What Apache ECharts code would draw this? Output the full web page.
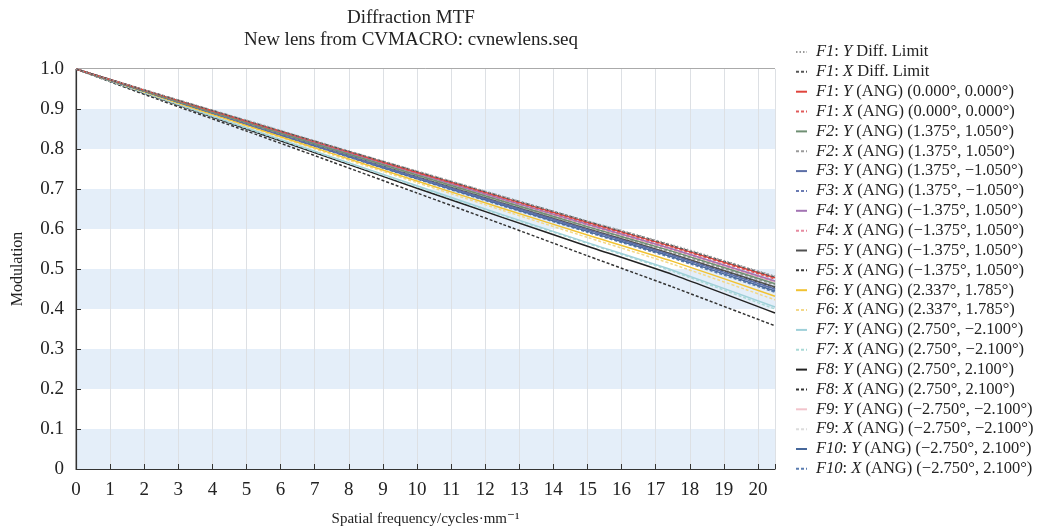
<!DOCTYPE html>
<html>
<head>
<meta charset="utf-8">
<script src="https://cdn.jsdelivr.net/npm/echarts@6/dist/echarts.min.js"></script>
<style>html,body{margin:0;padding:0;background:#fff}#c{width:1038px;height:529px}</style>
</head>
<body>
<div id="c"></div>
<script>
// Spatial frequency sample positions (cycles/mm)
var freqs = [0, 2.5, 5, 7.5, 10, 12.5, 15, 17.5, 20.5];
var xTicks = ['0','1','2','3','4','5','6','7','8','9','10','11','12','13','14','15','16','17','18','19','20'];
var yTicks = ['0','0.1','0.2','0.3','0.4','0.5','0.6','0.7','0.8','0.9','1.0'];

var seriesNames = [
  'F1: Y Diff. Limit',
  'F1: X Diff. Limit',
  'F1: Y (ANG) (0.000°, 0.000°)',
  'F1: X (ANG) (0.000°, 0.000°)',
  'F2: Y (ANG) (1.375°, 1.050°)',
  'F2: X (ANG) (1.375°, 1.050°)',
  'F3: Y (ANG) (1.375°, −1.050°)',
  'F3: X (ANG) (1.375°, −1.050°)',
  'F4: Y (ANG) (−1.375°, 1.050°)',
  'F4: X (ANG) (−1.375°, 1.050°)',
  'F5: Y (ANG) (−1.375°, 1.050°)',
  'F5: X (ANG) (−1.375°, 1.050°)',
  'F6: Y (ANG) (2.337°, 1.785°)',
  'F6: X (ANG) (2.337°, 1.785°)',
  'F7: Y (ANG) (2.750°, −2.100°)',
  'F7: X (ANG) (2.750°, −2.100°)',
  'F8: Y (ANG) (2.750°, 2.100°)',
  'F8: X (ANG) (2.750°, 2.100°)',
  'F9: Y (ANG) (−2.750°, −2.100°)',
  'F9: X (ANG) (−2.750°, −2.100°)',
  'F10: Y (ANG) (−2.750°, 2.100°)',
  'F10: X (ANG) (−2.750°, 2.100°)'
];

// Modulation values at each sampled frequency
var diffY  = [1, 0.935, 0.872, 0.808, 0.745, 0.682, 0.620, 0.560, 0.482];
var diffX  = [1, 0.935, 0.871, 0.807, 0.744, 0.681, 0.619, 0.558, 0.480];
var f1Y    = [1, 0.934, 0.870, 0.806, 0.742, 0.679, 0.617, 0.556, 0.478];
var f1X    = [1, 0.934, 0.869, 0.805, 0.741, 0.678, 0.615, 0.554, 0.475];
var f2Y    = [1, 0.932, 0.866, 0.800, 0.735, 0.670, 0.606, 0.544, 0.463];
var f2X    = [1, 0.932, 0.865, 0.799, 0.733, 0.668, 0.604, 0.541, 0.460];
var f3Y    = [1, 0.931, 0.863, 0.796, 0.729, 0.663, 0.598, 0.534, 0.450];
var f3X    = [1, 0.931, 0.863, 0.795, 0.728, 0.662, 0.597, 0.533, 0.449];
var f4Y    = [1, 0.933, 0.868, 0.803, 0.739, 0.675, 0.612, 0.550, 0.470];
var f4X    = [1, 0.933, 0.867, 0.802, 0.737, 0.673, 0.610, 0.548, 0.468];
var f5Y    = [1, 0.931, 0.864, 0.797, 0.731, 0.665, 0.601, 0.537, 0.455];
var f5X    = [1, 0.931, 0.864, 0.797, 0.730, 0.665, 0.600, 0.536, 0.454];
var f6Y    = [1, 0.929, 0.859, 0.789, 0.720, 0.652, 0.585, 0.519, 0.432];
var f6X    = [1, 0.928, 0.857, 0.786, 0.716, 0.647, 0.579, 0.512, 0.423];
var f7Y    = [1, 0.926, 0.853, 0.780, 0.708, 0.636, 0.566, 0.497, 0.405];
var f7X    = [1, 0.926, 0.852, 0.779, 0.706, 0.634, 0.564, 0.494, 0.400];
var f8Y    = [1, 0.925, 0.850, 0.776, 0.702, 0.629, 0.557, 0.486, 0.390];
var f8X    = [1, 0.921, 0.845, 0.768, 0.690, 0.612, 0.533, 0.455, 0.358];
var f9Y    = [1, 0.933, 0.868, 0.803, 0.738, 0.674, 0.611, 0.549, 0.468];
var f9X    = [1, 0.932, 0.866, 0.800, 0.735, 0.670, 0.606, 0.543, 0.462];
var f10Y   = [1, 0.930, 0.862, 0.794, 0.726, 0.660, 0.594, 0.530, 0.445];
var f10X   = [1, 0.930, 0.861, 0.793, 0.725, 0.658, 0.592, 0.527, 0.442];

var seriesValues = [diffY, diffX, f1Y, f1X, f2Y, f2X, f3Y, f3X, f4Y, f4X, f5Y, f5X,
                    f6Y, f6X, f7Y, f7X, f8Y, f8X, f9Y, f9X, f10Y, f10X];

var colors = ['#9a9a9a','#555555','#e0443c','#e05a5a','#6f8f73','#9a9a9a','#5b6ea6','#6a7bb3',
              '#a374b3','#e68aa0','#505050','#3a3a3a','#f1c232','#f3d88a','#9fd0d9','#a9d9d6',
              '#222222','#333333','#f2c4cc','#dcdcdc','#46679a','#5a7cb0'];
var dashes = ['dotted','dashed','solid','dashed','solid','dashed','solid','dashed','solid','dashed','solid','dashed',
              'solid','dashed','solid','dashed','solid','dashed','solid','dashed','solid','dashed'];

var serif = '"Liberation Serif", "DejaVu Serif", serif';

var series = seriesNames.map(function (n, i) {
  return {
    name: n,
    type: 'line',
    symbol: 'none',
    smooth: 0.2,
    z: 30 - i,
    data: freqs.map(function (f, k) { return [f, seriesValues[i][k]]; }),
    lineStyle: { color: colors[i], width: 1.5, type: dashes[i] === 'dashed' ? [3, 2] : (dashes[i] === 'dotted' ? [1.5, 2] : 'solid') },
    itemStyle: { color: colors[i] }
  };
});

var chart = echarts.init(document.getElementById('c'), null, { renderer: 'canvas' });
chart.setOption({
  animation: false,
  color: colors,
  graphic: [
    { type: 'text', style: { text: 'Diffraction MTF', x: 411, y: 9, textAlign: 'center', font: '19px ' + serif, fill: '#222' } },
    { type: 'text', style: { text: 'New lens from CVMACRO: cvnewlens.seq', x: 411, y: 31, textAlign: 'center', font: '19px ' + serif, fill: '#222' } }
  ],
  grid: { left: 76, right: 263, top: 69, bottom: 60, show: true, borderColor: '#555', borderWidth: 1,
          containLabel: false, outerBoundsMode: 'none' },
  xAxis: {
    type: 'value', min: 0, max: 20.5, interval: 1,
    name: 'Spatial frequency/cycles·mm⁻¹',
    nameLocation: 'middle', nameGap: 43,
    nameTextStyle: { fontFamily: serif, fontSize: 15, color: '#222' },
    axisLine: { show: true, lineStyle: { color: '#333', width: 1.2 } },
    axisTick: { show: true, inside: true, length: 5, lineStyle: { color: '#333' } },
    axisLabel: { fontFamily: serif, fontSize: 19, color: '#222', margin: 12,
      formatter: function (v) { var i = Math.round(v); return (Math.abs(v - i) < 1e-6 && i >= 0 && i < xTicks.length) ? xTicks[i] : ''; } },
    splitLine: { show: true, lineStyle: { color: '#dde0e4', width: 1 } }
  },
  yAxis: {
    type: 'value', min: 0, max: 1, interval: 0.1,
    name: 'Modulation',
    nameLocation: 'middle', nameGap: 50,
    nameTextStyle: { fontFamily: serif, fontSize: 16, color: '#222' },
    axisLine: { show: true, lineStyle: { color: '#333', width: 1.2 } },
    axisTick: { show: true, inside: true, length: 5, lineStyle: { color: '#333' } },
    axisLabel: { fontFamily: serif, fontSize: 19, color: '#222', margin: 12,
      formatter: function (v) { var i = Math.round(v * 10); return yTicks[i] !== undefined ? yTicks[i] : ''; } },
    splitLine: { show: false },
    splitArea: { show: true, areaStyle: { color: ['#e4eef9', '#ffffff'] } }
  },
  legend: {
    orient: 'vertical', left: 790, top: 38.5,
    itemWidth: 11, itemHeight: 10, itemGap: 2.85,
    itemStyle: { opacity: 0 },
    textStyle: { fontFamily: serif, fontSize: 16.5, lineHeight: 17, color: '#222', padding: [0, 0, 0, 4],
      rich: { i: { fontFamily: serif, fontSize: 16.5, lineHeight: 17, fontStyle: 'italic', color: '#222' } } },
    formatter: function (name) { return name.replace(/^(F\d+): ([XY])/, '{i|$1}: {i|$2}'); },
    data: seriesNames
  },
  series: series
});
</script>
</body>
</html>
